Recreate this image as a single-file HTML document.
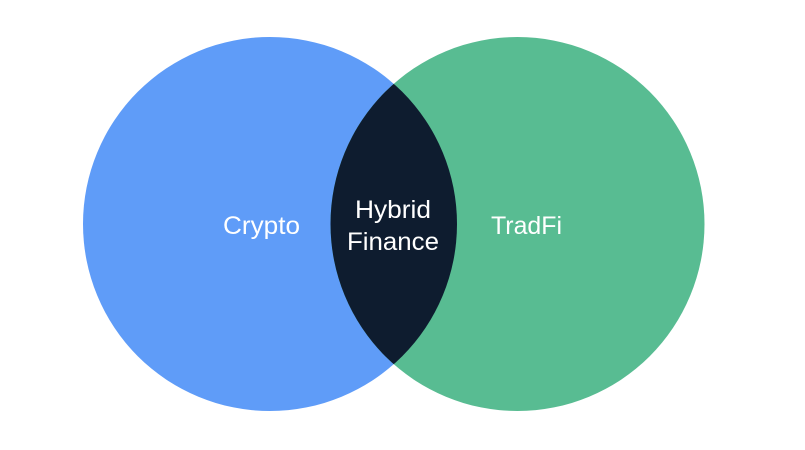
<!DOCTYPE html>
<html><head><meta charset="utf-8"><style>
html,body{margin:0;padding:0;background:#fff;width:805px;height:450px;overflow:hidden}
text{font-family:"Liberation Sans",Arial,sans-serif;fill:#fff;font-size:25px}
</style></head><body>
<svg width="805" height="450" viewBox="0 0 805 450" xmlns="http://www.w3.org/2000/svg">
<defs><clipPath id="c"><circle cx="270" cy="224" r="187"/></clipPath></defs>
<circle cx="270" cy="224" r="187" fill="#5f9cf8"/>
<circle cx="517.5" cy="224" r="187" fill="#58bc92"/>
<circle cx="517.5" cy="224" r="187" fill="#0e1c2f" clip-path="url(#c)"/>
<text x="261.5" y="234" text-anchor="middle" textLength="77" lengthAdjust="spacingAndGlyphs">Crypto</text>
<text x="526.5" y="234" text-anchor="middle" textLength="71" lengthAdjust="spacingAndGlyphs">TradFi</text>
<text x="393" y="218" text-anchor="middle" textLength="76" lengthAdjust="spacingAndGlyphs">Hybrid</text>
<text x="393" y="250" text-anchor="middle" textLength="92" lengthAdjust="spacingAndGlyphs">Finance</text>
</svg>
</body></html>
